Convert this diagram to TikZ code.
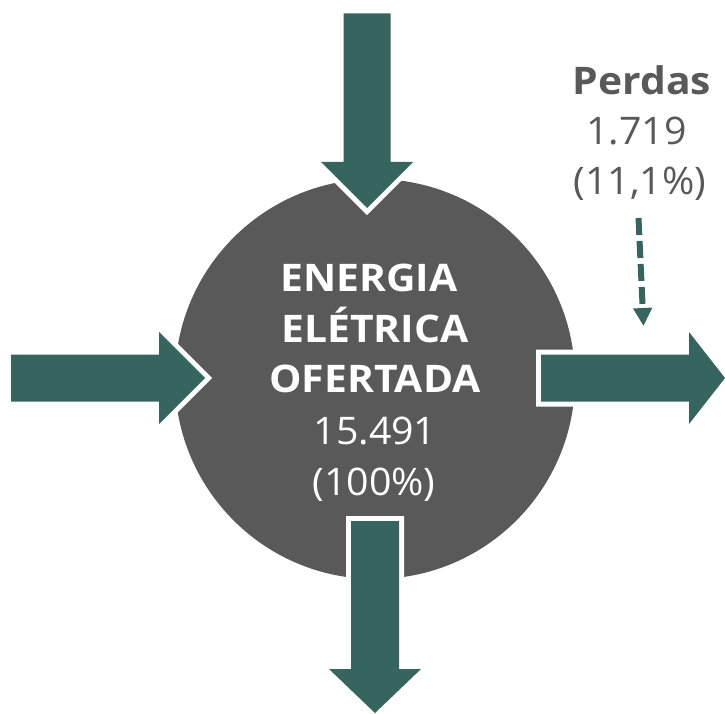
\documentclass[tikz,border=0pt]{standalone}
\usepackage{fontspec}
\setmainfont{Open Sans}
\newfontfamily\boldwide[FakeStretch=1.075]{Open Sans Bold}
\newfontfamily\regwide[FakeStretch=1.035]{Open Sans}
\usetikzlibrary{arrows.meta}
\definecolor{arrowgreen}{HTML}{36645E}
\definecolor{circgray}{HTML}{595959}
\begin{document}
\begin{tikzpicture}[x=1pt,y=-1pt,
  bigarrow/.style={fill=arrowgreen, preaction={draw=white, line width=10pt, line join=miter}},
  boldtxt/.style={font=\boldwide\fontsize{38}{46}\selectfont, inner sep=0pt, anchor=base},
  regtxt/.style={font=\regwide\fontsize{38}{46}\selectfont, inner sep=0pt, anchor=base},
  dasharrow/.style={draw=arrowgreen, line width=6pt, dash pattern=on 17pt off 6pt, -{Triangle[width=18pt,length=18pt]}}
]
\useasboundingbox (0,0) rectangle (725,714);
% central circle
\node[circle, fill=circgray, minimum size=400pt, inner sep=0pt] (c) at (375,379) {};
% top arrow (in)
\path[bigarrow] (343.5,13.5) -- (390.5,13.5) -- (390.5,162) -- (413,162) -- (367,208) -- (321,162) -- (343.5,162) -- cycle;
% left arrow (in)
\path[bigarrow] (11,354.5) -- (159,354.5) -- (159,332) -- (205,378) -- (159,424) -- (159,401.5) -- (11,401.5) -- cycle;
% right arrow (out)
\path[bigarrow] (541,354.5) -- (689,354.5) -- (689,332) -- (725,378) -- (689,424) -- (689,401.5) -- (541,401.5) -- cycle;
% bottom arrow (out)
\path[bigarrow] (351,521) -- (399,521) -- (399,669) -- (421,669) -- (375,713) -- (329,669) -- (351,669) -- cycle;
% texts in circle
\node[boldtxt, text=white] (t1) at (369,291.7) {ENERGIA};
\node[boldtxt, text=white] (t2) at (375,342) {ELÉTRICA};
\node[boldtxt, text=white] (t3) at (375,392.7) {OFERTADA};
\node[regtxt, text=white] (t4) at (375,444) {15.491};
\node[regtxt, text=white] (t5) at (374,495) {(100\%)};
% losses
\node[boldtxt, text=circgray] (p1) at (642,95) {Perdas};
\node[regtxt, text=circgray] (p2) at (636.5,145) {1.719};
\node[regtxt, text=circgray] (p3) at (640,195) {(11,1\%)};
\coordinate (ds) at (638.5,218);
\coordinate (de) at (643.5,326);
\draw[dasharrow] (ds) -- (de);
\end{tikzpicture}
\end{document}
